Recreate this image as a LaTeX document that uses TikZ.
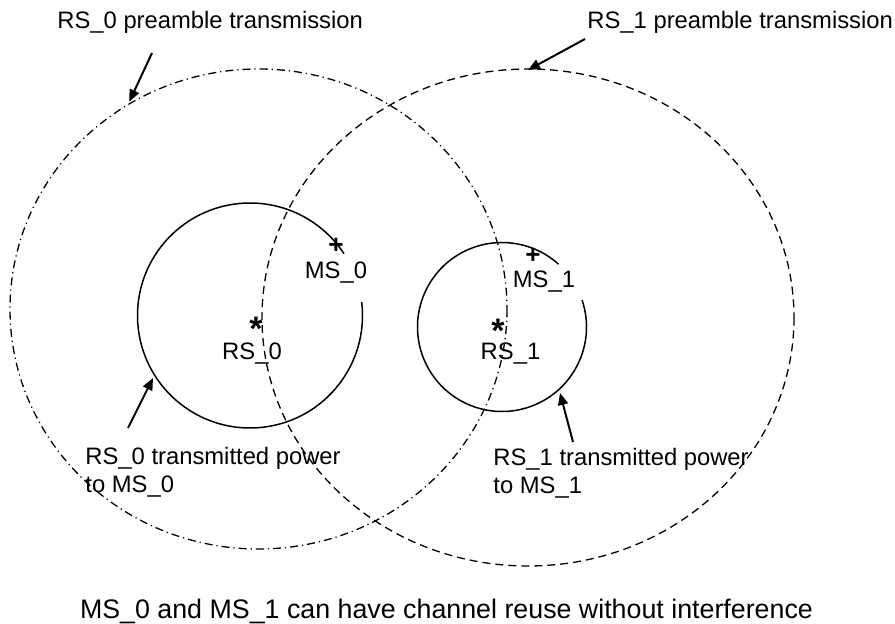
\documentclass[tikz,border=0pt]{standalone}
\usepackage{fontspec}
\setmainfont{Liberation Sans}
\usetikzlibrary{arrows.meta}
\begin{document}
\begin{tikzpicture}[x=0.5pt,y=-0.5pt,>={Triangle[length=6pt,width=5pt]},
  every node/.style={inner sep=0pt,font=\fontsize{11.9}{13.7}\selectfont},
  plus/.style={font=\fontsize{13}{14}\selectfont\bfseries},
  aster/.style={font=\fontsize{17}{18}\selectfont\bfseries},
  power/.style={line width=0.75pt},
  pre0/.style={line width=0.65pt,dash pattern=on 4pt off 2pt on 0.6pt off 2pt},
  pre1/.style={line width=0.65pt,dash pattern=on 4pt off 2.5pt},
  pointer/.style={->,line width=1pt}]
  \useasboundingbox (0,0) rectangle (895,624);

  % Zentren
  \coordinate (c0) at (250,315.5);
  \coordinate (c1) at (502,327);

  % Praeambel-Reichweite
  \draw[pre0] (258.5,309) ellipse [x radius=248.5, y radius=240];
  \draw[pre1] (528,317.5) ellipse [x radius=266, y radius=248.5];

  % Sendeleistung zu den MS
  \draw[power] (c0) ++(-6.8:112.5) arc[start angle=-6.8, end angle=326.7, radius=112.5];
  \draw[power] (c1) ++(-18.6:84.5) arc[start angle=-18.6, end angle=312, radius=84.5];

  % Stationen
  \node[plus] (ms0) at (336,246) {+};
  \node[aster] (rs0) at (256,329) {*};
  \node[plus] (ms1) at (533,256) {+};
  \node[aster] (rs1) at (498,331) {*};
  \node[anchor=base] (ms0lbl) at (336,278.3) {MS\_0};
  \node[anchor=base] (rs0lbl) at (252,360) {RS\_0};
  \node[anchor=base] (ms1lbl) at (544,287.3) {MS\_1};
  \node[anchor=base] (rs1lbl) at (510.5,360) {RS\_1};

  % Beschriftungen
  \node[anchor=base west] (pre0lbl) at (57,28.3) {RS\_0 preamble transmission};
  \node[anchor=base west] (pre1lbl) at (587,28.3) {RS\_1 preamble transmission};
  \node[anchor=north west,align=left] (pow0lbl) at (85,447) {RS\_0 transmitted power\\to MS\_0};
  \node[anchor=north west,align=left] (pow1lbl) at (493,448) {RS\_1 transmitted power\\to MS\_1};
  \node[anchor=base,font=\fontsize{13.4}{15}\selectfont] (note) at (446.5,618.3)
    {MS\_0 and MS\_1 can have channel reuse without interference};

  % Pfeile
  \coordinate (pre0tail) at (152,53);   \coordinate (pre0tip) at (129.3,101.7);
  \coordinate (pre1tail) at (585,39);   \coordinate (pre1tip) at (528,70);
  \coordinate (pow0tail) at (128,428);  \coordinate (pow0tip) at (153,378);
  \coordinate (pow1tail) at (573,442);  \coordinate (pow1tip) at (560,393);
  \draw[pointer] (pre0tail) -- (pre0tip);
  \draw[pointer] (pre1tail) -- (pre1tip);
  \draw[pointer] (pow0tail) -- (pow0tip);
  \draw[pointer] (pow1tail) -- (pow1tip);
\end{tikzpicture}
\end{document}
